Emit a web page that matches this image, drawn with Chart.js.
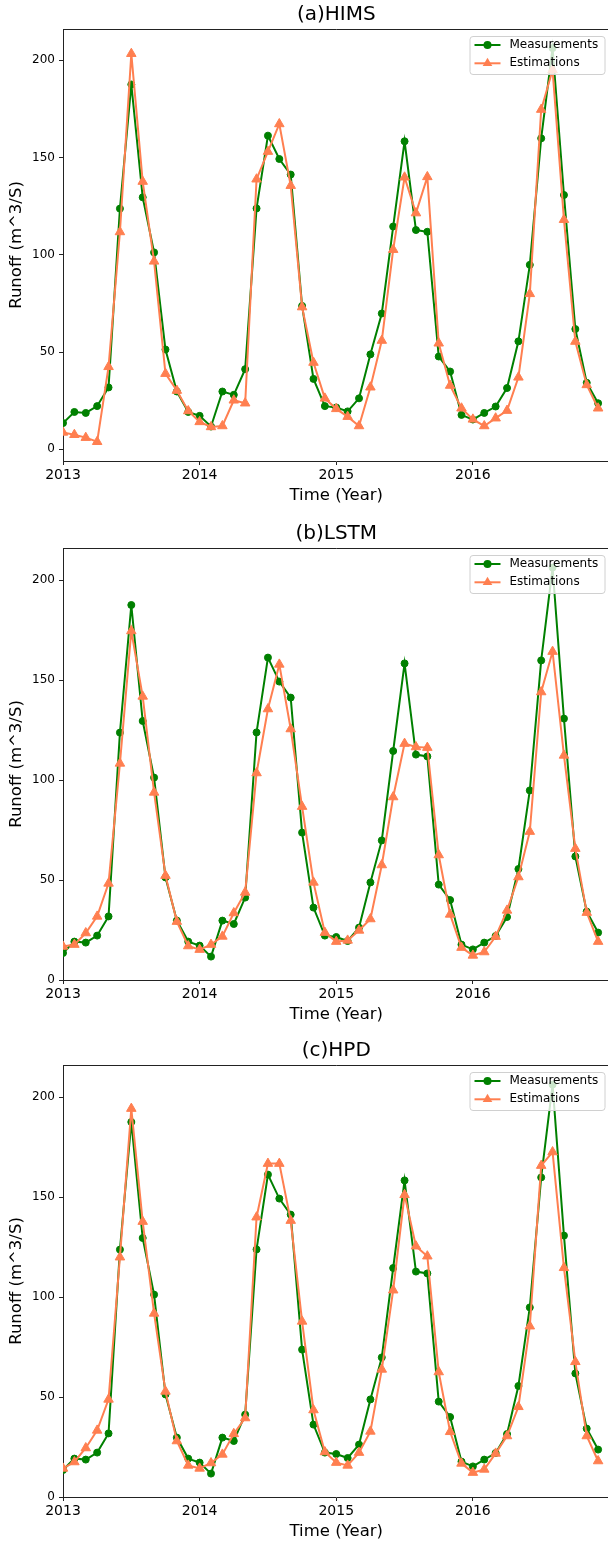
<!DOCTYPE html>
<html>
<head>
<meta charset="utf-8">
<script src="https://cdn.jsdelivr.net/npm/chart.js@4"></script>
<style>
  html, body { margin:0; padding:0; background:#fff; width:608px; height:1543px; overflow:hidden; }
  .panel { position:absolute; left:0; width:616px; height:518px; }
</style>
</head>
<body>
<div class="panel" style="top:0px"><canvas id="c1"></canvas></div>
<div class="panel" style="top:519px"><canvas id="c2"></canvas></div>
<div class="panel" style="top:1036px"><canvas id="c3"></canvas></div>
<script>
// -------- data (monthly, Jan 2013 .. Dec 2016) --------
const yearLabels = ['2013','2014','2015','2016'];
const yTicks = [0, 50, 100, 150, 200];

const measured = [13.5,19.2,18.7,22.2,31.8,123.7,187.5,129.5,101.2,51.3,29.7,19.2,
                  17.2,11.7,29.7,28.0,41.2,123.8,161.2,149.2,141.2,73.7,36.2,22.2,
                  21.5,19.5,26.2,48.8,69.8,114.5,158.3,112.7,111.8,47.7,40.0,17.7,
                  15.3,18.7,22.0,31.5,55.5,94.8,159.8,206.2,130.7,61.8,34.2,23.7];

const himsEst = [8.7,7.5,6.0,3.9,42.4,111.7,203.3,137.6,96.6,38.9,30.2,19.7,
                 14.1,11.5,12.0,25.2,23.7,138.8,153.0,167.2,135.5,73.1,44.6,26.2,
                 20.8,16.8,12.0,31.9,55.9,102.6,139.8,121.4,140.0,54.5,32.8,21.1,
                 15.4,12.0,16.0,19.9,37.0,79.9,174.6,194.9,118.0,55.4,33.1,21.1];

const lstmEst = [16.8,17.7,23.5,31.8,48.3,108.3,174.5,141.8,93.8,52.2,29.2,17.0,
                 15.2,17.7,21.8,33.5,43.8,103.5,135.5,157.8,125.5,86.7,48.8,23.7,
                 19.2,19.8,24.8,30.5,57.5,91.5,118.2,116.5,116.2,62.5,32.8,16.2,
                 12.3,14.0,21.7,34.8,51.5,74.2,144.0,164.2,112.3,65.7,33.7,19.2];

const hpdEst = [14.3,17.5,24.5,33.3,48.8,119.9,194.2,137.7,91.8,52.8,28.0,15.8,
                14.3,17.0,21.3,31.6,39.5,139.9,166.7,166.7,138.2,87.8,43.5,22.5,
                17.2,15.8,22.2,32.8,63.8,103.4,151.1,125.4,120.4,62.5,32.6,16.8,
                12.2,13.8,21.8,30.5,45.1,85.4,165.7,172.5,114.6,67.6,30.5,18.0];

const GREEN = '#008000', CORAL = '#ff7f50';
Chart.defaults.font.family = '"DejaVu Sans", sans-serif';
Chart.defaults.color = '#000';

// -------- frame / title / legend in matplotlib style --------
const mplFrame = {
  id: 'mplFrame',
  afterDraw(chart, args, opts){
    const {ctx, chartArea:a} = chart;
    ctx.save();
    ctx.strokeStyle = '#222'; ctx.lineWidth = 1;
    ctx.beginPath();
    ctx.moveTo(a.left, a.top+0.5); ctx.lineTo(a.right, a.top+0.5);
    ctx.moveTo(a.right-0.5, a.top); ctx.lineTo(a.right-0.5, a.bottom);
    ctx.stroke();

    ctx.fillStyle = '#000';
    ctx.font = '20px "DejaVu Sans"';
    ctx.textAlign = 'center'; ctx.textBaseline = 'middle';
    ctx.fillText(opts.text, (a.left+a.right)/2, a.top-14);

    // legend
    const x0 = a.right-140, y0 = a.top+7, w = 135, h = 38;
    ctx.beginPath();
    ctx.roundRect(x0+0.5, y0+0.5, w, h, 3);
    ctx.fillStyle = 'rgba(255,255,255,0.8)'; ctx.fill();
    ctx.strokeStyle = '#d0d0d0'; ctx.stroke();
    ctx.font = '12px "DejaVu Sans"';
    ctx.textAlign = 'left';
    chart.data.datasets.forEach((ds, i) => {
      const ry = y0 + 9 + i*18.3;
      ctx.strokeStyle = ds.borderColor; ctx.lineWidth = 2;
      ctx.beginPath(); ctx.moveTo(x0+5, ry); ctx.lineTo(x0+31, ry); ctx.stroke();
      ctx.fillStyle = ds.borderColor;
      if (ds.pointStyle === 'triangle') {
        ctx.beginPath();
        ctx.moveTo(x0+18, ry-5.5); ctx.lineTo(x0+22.8, ry+2.8); ctx.lineTo(x0+13.2, ry+2.8);
        ctx.closePath(); ctx.fill();
      } else {
        ctx.beginPath(); ctx.arc(x0+18, ry, 4, 0, Math.PI*2); ctx.fill();
      }
      ctx.fillStyle = '#000';
      ctx.fillText(ds.label, x0+40, ry);
    });
    ctx.restore();
  }
};

function makePanel(id, title, est, yMin){
  new Chart(document.getElementById(id), {
    type: 'line',
    data: {
      datasets: [
        {label:'Measurements', data: measured.map((v,i)=>({x:i, y:v})),
         borderColor: GREEN, backgroundColor: GREEN, borderWidth: 2,
         pointStyle:'circle', pointRadius: 3.5, pointBorderWidth: 1, order: 2},
        {label:'Estimations', data: est.map((v,i)=>({x:i, y:v})),
         borderColor: CORAL, backgroundColor: CORAL, borderWidth: 2,
         pointStyle:'triangle', pointRadius: 5.5, pointBorderWidth: 1, order: 1}
      ]
    },
    options: {
      responsive: true, maintainAspectRatio: false, animation: false,
      layout: {padding: {top: 29, right: 5, left: 0, bottom: 0}},
      plugins: {legend: {display: false}, tooltip: {enabled: false}, mplFrame: {text: title}},
      scales: {
        x: {
          type: 'linear', min: 0, max: 48,
          afterFit: s => { s.height = 57; },
          afterBuildTicks: s => { s.ticks = yearLabels.map((t,i)=>({value: i*12})); },
          ticks: {font:{size:14}, padding: 2, maxRotation: 0,
                  callback: v => yearLabels[v/12] || ''},
          grid: {drawOnChartArea: false, tickLength: 4, color: '#222'},
          border: {color: '#222', width: 1},
          title: {display: true, text: 'Time (Year)', font:{size:16.5}, padding:{top:0, bottom:12}}
        },
        y: {
          min: yMin, max: 216,
          afterFit: s => { s.width = 63; },
          afterBuildTicks: s => { s.ticks = yTicks.map(v=>({value: v})); },
          ticks: {font:{size:12}, padding: 4},
          grid: {drawOnChartArea: false, tickLength: 4, color: '#222'},
          border: {color: '#222', width: 1},
          title: {display: true, text: 'Runoff (m^3/S)', font:{size:16.5}, padding:{top:7, bottom:0}}
        }
      }
    },
    plugins: [mplFrame]
  });
}

makePanel('c1', '(a)HIMS', himsEst, -6);
makePanel('c2', '(b)LSTM', lstmEst, 0);
makePanel('c3', '(c)HPD', hpdEst, 0);
</script>
</body>
</html>
